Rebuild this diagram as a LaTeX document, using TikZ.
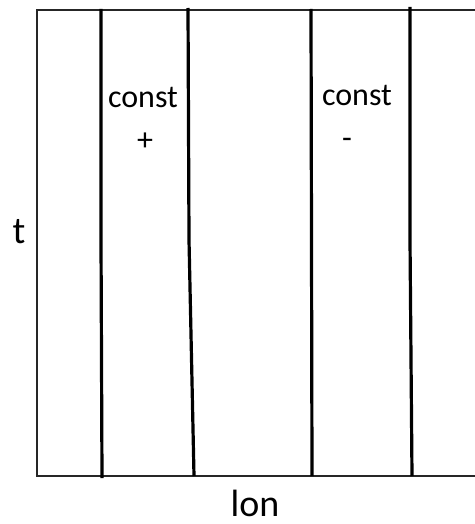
\documentclass[tikz,border=0pt]{standalone}
\usepackage{fontspec}
\setmainfont{Carlito}
\begin{document}
\begin{tikzpicture}[x=1pt,y=-1pt,
  frame/.style={line width=1.4pt,draw=black!85},
  divider/.style={line width=3.2pt,draw=black},
  lbl/.style={anchor=base,inner sep=0pt,font=\fontsize{32}{36}\selectfont},
  axislbl/.style={anchor=base,inner sep=0pt,font=\fontsize{38}{44}\selectfont}]
  \useasboundingbox (0,0) rectangle (474,524);
  % plotting frame (open to the right)
  \draw[frame] (490,10) -- (37,10) -- (37,476) -- (490,476);
  % constant-lon boundaries
  \draw[divider] (101,9) -- (101,240) -- (102,478);
  \draw[divider] (188,8) -- (189,240) -- (194,476);
  \draw[divider] (311,9) -- (312,476);
  \draw[divider] (410,7) -- (410,240) -- (412,476);
  % strip labels
  \node[lbl] (c1) at (143,108) {const};
  \node[lbl] (p1) at (145,150) {+};
  \node[lbl] (c2) at (357,106) {const};
  \node[lbl] (m2) at (347,148) {-};
  % axis labels
  \node[axislbl] (tl) at (19,243) {t};
  \node[axislbl] (lonl) at (255,516) {lon};
\end{tikzpicture}
\end{document}
